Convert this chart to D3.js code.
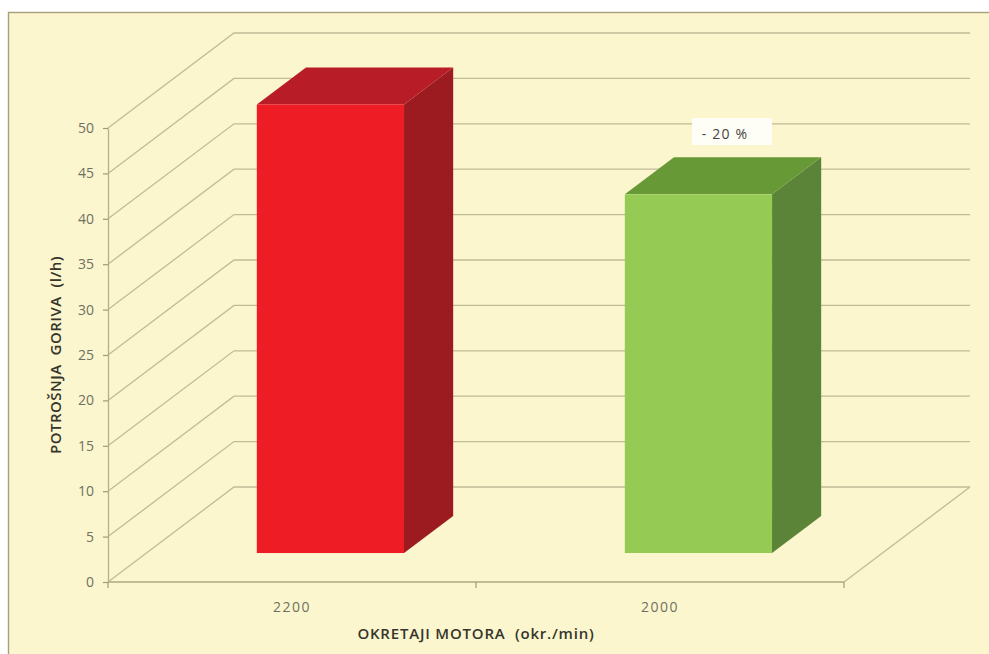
<!DOCTYPE html>
<html>
<head>
<meta charset="utf-8">
<script src="https://cdnjs.cloudflare.com/ajax/libs/d3/7.8.5/d3.min.js"></script>
<style>
body { margin: 0; background: #fff; }
svg { display: block; }
text { font-family: "Open Sans", "Noto Sans", sans-serif; }
</style>
</head>
<body>
<div id="chart"></div>
<script>
var categories = ["2200", "2000"];
var fuelUse = [49.4, 39.5];
var barFront = ["#ee1c25", "#95cb55"];
var barTop = ["#b81c26", "#679a37"];
var barSide = ["#9c1b20", "#5c8438"];
var yTicks = [0, 5, 10, 15, 20, 25, 30, 35, 40, 45, 50];

var width = 989, height = 654;
var depthX = 126, depthY = 95;          // floor depth in px
var barDepth = 0.39;                    // share of floor depth the bars take
var barStart = 0.305;                   // where the bars stand on the floor

var svg = d3.select("#chart").append("svg")
    .attr("width", width)
    .attr("height", height);

svg.append("rect")
    .attr("x", 8.5).attr("y", 12.5)
    .attr("width", width).attr("height", height)
    .style("fill", "#fcf6ce")
    .style("stroke", "#a89f78")
    .style("stroke-width", 1.4);

var x = d3.scaleBand().domain(categories).range([108, 844]);
var y = d3.scaleLinear().domain([0, 50]).range([582, 128]);

var lineColor = "#c0bb98";

// walls
var grid = svg.append("g");
grid.selectAll("polyline")
    .data(yTicks)
    .enter()
    .append("polyline")
    .attr("points", function(d) {
        var a = y(d);
        return [[108, a], [108 + depthX, a - depthY], [970, a - depthY]].join(" ");
    })
    .style("fill", "none")
    .style("stroke", lineColor)
    .style("stroke-width", 1.3);

// floor edges
grid.append("line")
    .attr("x1", 108).attr("y1", y(0)).attr("x2", 844).attr("y2", y(0))
    .style("stroke", "#c2bc96").style("stroke-width", 2);
grid.append("line")
    .attr("x1", 844).attr("y1", y(0)).attr("x2", 970).attr("y2", y(0) - depthY)
    .style("stroke", lineColor).style("stroke-width", 1.3);

// axes
var yAxis = d3.axisLeft(y).tickValues(yTicks).tickSize(5).tickPadding(9).tickSizeOuter(0);
var yG = svg.append("g").attr("transform", "translate(108,0)").call(yAxis);
var xAxis = d3.axisBottom(x).tickSize(5).tickPadding(15).tickSizeOuter(0);
var xG = svg.append("g").attr("transform", "translate(0,582)").call(xAxis);
// band ticks go on the borders, as in the picture
xG.selectAll(".tick line").remove();
xG.select(".domain").remove();
xG.selectAll(".borderTick")
    .data([0, 1, 2])
    .enter()
    .append("line")
    .attr("class", "borderTick")
    .attr("x1", function(d) { return x.range()[0] + d * x.step(); })
    .attr("x2", function(d) { return x.range()[0] + d * x.step(); })
    .attr("y1", 0).attr("y2", 6);
yG.select(".domain").style("stroke", "#b5b08c").style("stroke-width", 1.3);
svg.selectAll(".tick line, .borderTick").style("stroke", "#9f9b78").style("stroke-width", 1.2);
svg.selectAll(".tick text")
    .style("font-size", "14px")
    .style("font-family", "'Open Sans', sans-serif")
    .style("fill", "#6f7062");
xG.selectAll(".tick text").style("letter-spacing", "1.5px");

// bars
var offX = depthX * barStart, offY = depthY * barStart;
var dX = depthX * barDepth, dY = depthY * barDepth;
var barW = x.step() * 0.4;

var bars = svg.selectAll(".bar")
    .data(fuelUse)
    .enter()
    .append("g")
    .attr("class", "bar");

function barLeft(i) { return x(categories[i]) + x.step() * 0.3 + offX; }
function barBase() { return y(0) - offY; }
function barTopY(d) { return barBase() - (y(0) - y(d)); }

bars.append("polygon")   // side
    .attr("points", function(d, i) {
        var r = barLeft(i) + barW;
        return [[r, barTopY(d)], [r + dX, barTopY(d) - dY], [r + dX, barBase() - dY], [r, barBase()]].join(" ");
    })
    .style("fill", function(d, i) { return barSide[i]; });

bars.append("polygon")   // top
    .attr("points", function(d, i) {
        var l = barLeft(i), r = l + barW;
        return [[l, barTopY(d)], [l + dX, barTopY(d) - dY], [r + dX, barTopY(d) - dY], [r, barTopY(d)]].join(" ");
    })
    .style("fill", function(d, i) { return barTop[i]; });

bars.append("rect")
    .attr("x", function(d, i) { return barLeft(i); })
    .attr("y", function(d) { return barTopY(d); })
    .attr("width", barW)
    .attr("height", function(d) { return y(0) - y(d); })
    .style("fill", function(d, i) { return barFront[i]; });

// label above the green bar
svg.append("rect")
    .attr("x", 692).attr("y", 118).attr("width", 80).attr("height", 27)
    .style("fill", "#fffef6");
svg.append("text")
    .attr("x", 725).attr("y", 139)
    .attr("text-anchor", "middle")
    .attr("xml:space", "preserve")
    .style("font-size", "14px")
    .style("letter-spacing", "1.2px")
    .style("fill", "#444")
    .text("- 20 %");

// axis titles
svg.append("text")
    .attr("transform", "translate(61,355) rotate(-90)")
    .attr("text-anchor", "middle")
    .attr("xml:space", "preserve")
    .style("font-size", "15px")
    .style("font-weight", 600)
    .style("fill", "#35352b")
    .style("letter-spacing", "0.5px")
    .text("POTROŠNJA  GORIVA  (l/h)");
svg.append("text")
    .attr("x", 476).attr("y", 639)
    .attr("text-anchor", "middle")
    .attr("xml:space", "preserve")
    .style("font-size", "15px")
    .style("font-weight", 600)
    .style("fill", "#35352b")
    .style("letter-spacing", "0.8px")
    .text("OKRETAJI MOTORA  (okr./min)");
</script>
</body>
</html>
